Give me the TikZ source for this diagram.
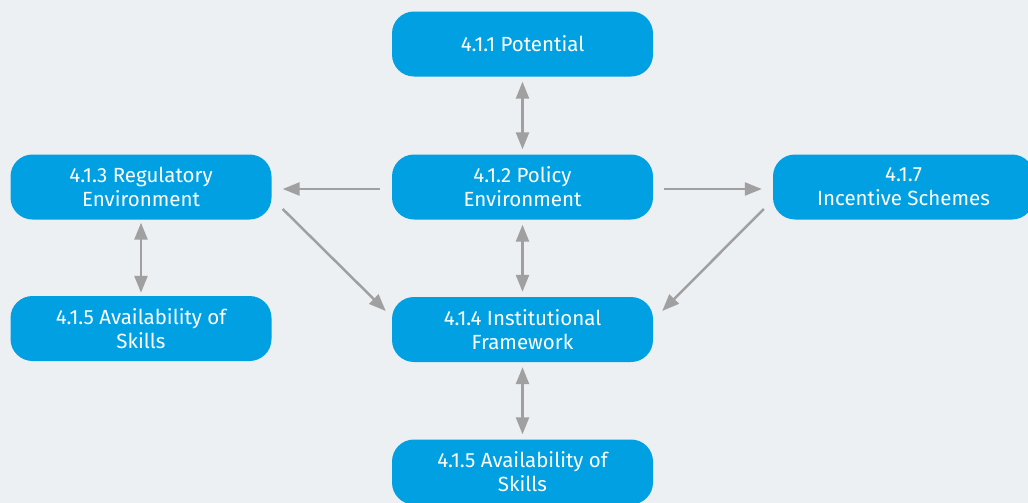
\documentclass[tikz,border=0pt]{standalone}
\usepackage{fontspec}
\setmainfont{Fira Sans}
\usepackage{xcolor}
\usetikzlibrary{arrows.meta}

\definecolor{bgcol}{HTML}{ECF0F3}
\definecolor{boxblue}{HTML}{00A0E3}
\definecolor{arrgray}{HTML}{A0A0A0}

\begin{document}
\begin{tikzpicture}[>={Triangle[length=17bp,width=13bp]},
	box/.style={fill=boxblue,text=white,rounded corners=22bp,minimum width=261bp,
		minimum height=65bp,align=center,font=\fontsize{20.5bp}{24bp}\selectfont,inner sep=0pt},
	link/.style={draw=arrgray,line width=2.5bp}]
	\fill[bgcol] (0bp,0bp) rectangle (1028bp,-503bp);
	\clip (0bp,0bp) rectangle (1028bp,-503bp);

	\node[box] (Pot)   at (522.5bp,-44bp)    {4.1.1 Potential};
	\node[box] (Pol)   at (522.5bp,-187bp)   {4.1.2 Policy\\Environment};
	\node[box] (Reg)   at (141bp,-187bp)     {4.1.3 Regulatory\\Environment};
	\node[box] (Inc)   at (903.5bp,-187bp)   {4.1.7\\Incentive Schemes};
	\node[box] (SkL)   at (141bp,-328.5bp)   {4.1.5 Availability of\\Skills};
	\node[box] (Inst)  at (522.5bp,-329.5bp) {4.1.4 Institutional\\Framework};
	\node[box] (SkB)   at (522.5bp,-472bp)   {4.1.5 Availability of\\Skills};

	\draw [link,<->,shorten <=5bp,shorten >=5bp] (Pot) -- (Pol);
	\draw [link,<->,shorten <=5bp,shorten >=5bp] (Pol) -- (Inst);
	\draw [link,<->,shorten <=5bp,shorten >=5bp] (Inst) -- (SkB);
	\draw [link,<->,shorten <=3bp,shorten >=3bp] (Reg) -- (SkL);

	\draw [link,->,shorten <=12bp,shorten >=11bp] ([yshift=-2bp]Pol.west) -- ([yshift=-2bp]Reg.east);
	\draw [link,->,shorten <=11bp,shorten >=11bp] ([yshift=-2bp]Pol.east) -- ([yshift=-2bp]Inc.west);
	\draw [link,->] ([xshift=11bp,yshift=-22bp]Reg.east) -- ([xshift=-6bp,yshift=18.5bp]Inst.west);
	\draw [link,->] ([xshift=-9bp,yshift=-22bp]Inc.west) -- ([xshift=9bp,yshift=18.5bp]Inst.east);
\end{tikzpicture}
\end{document}
